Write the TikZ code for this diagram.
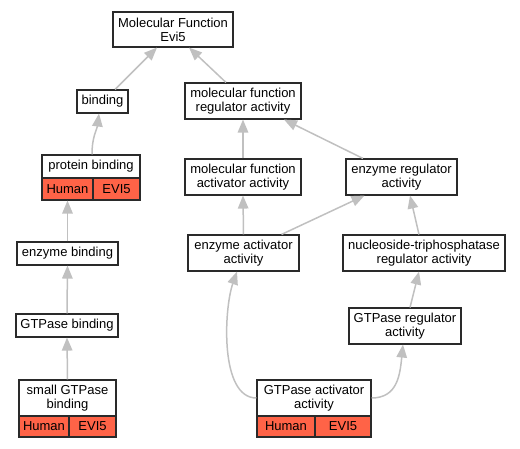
\documentclass[tikz,border=0pt]{standalone}
\usepackage{fontspec}
\setmainfont{Liberation Sans}
\usetikzlibrary{arrows.meta}
\definecolor{edgegray}{HTML}{C0C0C0}
\definecolor{tomatofill}{HTML}{FF6347}
\definecolor{boxline}{HTML}{2A2A2A}
\begin{document}
\begin{tikzpicture}[x=1pt,y=1pt,
  box/.style={draw=boxline, line width=1.1pt, fill=white, inner sep=0pt, align=center, font=\fontsize{13}{14}\selectfont},
  cell/.style={box, fill=tomatofill},
  edge/.style={draw=edgegray, line width=1.5pt, -{Triangle[length=13pt,width=10.5pt]}}]
\useasboundingbox (0,0) rectangle (520,448);
% nodes
\node[box, minimum width=120, minimum height=35] (mf) at (173,418.5) {Molecular Function\\Evi5};
\node[box, minimum width=51, minimum height=23] (binding) at (102.5,346.5) {binding};
\node[box, minimum width=98, minimum height=23] (pb) at (91,281.5) {protein binding};
\node[cell, minimum width=51, minimum height=22] (pbh) at (67.5,259) {Human};
\node[cell, minimum width=47, minimum height=22] (pbe) at (116.5,259) {EVI5};
\node[box, minimum width=116, minimum height=36] (mfra) at (243,347) {molecular function\\regulator activity};
\node[box, minimum width=116, minimum height=36] (mfaa) at (243,271) {molecular function\\activator activity};
\node[box, minimum width=111, minimum height=36] (era) at (401.5,271) {enzyme regulator\\activity};
\node[box, minimum width=111, minimum height=36] (eaa) at (243.5,195) {enzyme activator\\activity};
\node[box, minimum width=162, minimum height=36] (ntr) at (424,195) {nucleoside-triphosphatase\\regulator activity};
\node[box, minimum width=112, minimum height=36] (gtr) at (405,122) {GTPase regulator\\activity};
\node[box, minimum width=114, minimum height=36] (gaa) at (314,50) {GTPase activator\\activity};
\node[cell, minimum width=58, minimum height=21] (gaah) at (286,21.5) {Human};
\node[cell, minimum width=56, minimum height=21] (gaae) at (343,21.5) {EVI5};
\node[box, minimum width=101, minimum height=23] (eb) at (67.5,194.5) {enzyme binding};
\node[box, minimum width=102, minimum height=23] (gb) at (67,122.5) {GTPase binding};
\node[box, minimum width=97, minimum height=36] (sgb) at (67.5,50) {small GTPase\\binding};
\node[cell, minimum width=50, minimum height=21] (sgbh) at (44,21.5) {Human};
\node[cell, minimum width=47, minimum height=21] (sgbe) at (92.5,21.5) {EVI5};
% edges
\draw[edge] ([xshift=12.5pt]binding.north) -- ([xshift=-16pt]mf.south);
\draw[edge] ([xshift=-17pt]mfra.north) -- ([xshift=16pt]mf.south);
\draw[edge] ([xshift=1pt]pb.north) .. controls +(0,18) and +(-2,-16) .. ([xshift=-3.5pt]binding.south);
\draw[edge] (eb.north) -- (pbh.south);
\draw[edge] (gb.north) -- (eb.south);
\draw[edge] (sgb.north) -- (gb.south);
\draw[edge] (mfaa.north) -- (mfra.south);
\draw[edge] ([xshift=-38.5pt]era.north) -- ([xshift=41pt]mfra.south);
\draw[edge] (eaa.north) -- (mfaa.south);
\draw[edge] ([xshift=38pt]eaa.north) -- ([xshift=-37pt]era.south);
\draw[edge] ([xshift=-5pt]ntr.north) -- ([xshift=8.5pt]era.south);
\draw[edge] ([xshift=5pt]gtr.north) -- ([xshift=-5pt]ntr.south);
\draw[edge] (gaa.west) .. controls +(-37,0) and +(-13,-37) .. ([xshift=-6.5pt]eaa.south);
\draw[edge] (gaa.east) .. controls +(26,0) and +(-3,-30) .. ([xshift=-2pt]gtr.south);
\end{tikzpicture}
\end{document}
